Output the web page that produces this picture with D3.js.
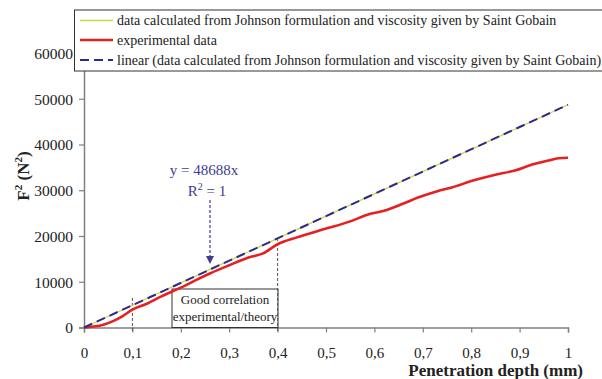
<!DOCTYPE html>
<html>
<head>
<meta charset="utf-8">
<script src="https://cdn.jsdelivr.net/npm/d3@7"></script>
<style>
  body { margin: 0; background: #fff; }
  svg, svg text, svg tspan { font-family: 'Liberation Serif', 'Times New Roman', Times, 'DejaVu Serif', serif !important; }
</style>
</head>
<body>
<div id="chart"></div>
<script>
// data
const depthTicks = [0, 0.1, 0.2, 0.3, 0.4, 0.5, 0.6, 0.7, 0.8, 0.9, 1];
const depthTickLabels = ['0', '0,1', '0,2', '0,3', '0,4', '0,5', '0,6', '0,7', '0,8', '0,9', '1'];
const forceTicks = [0, 10000, 20000, 30000, 40000, 50000, 60000];

const calcDepth = [0, 0.1, 0.2, 0.3, 0.4, 0.5, 0.6, 0.7, 0.8, 0.9, 1];
const calcF2 = [0, 4869, 9738, 14606, 19475, 24344, 29213, 34082, 38950, 43819, 48688];

const expDepth = [0, 0.02, 0.04, 0.06, 0.08, 0.1, 0.13, 0.16, 0.2, 0.23, 0.26, 0.3, 0.34, 0.37, 0.4,
  0.44, 0.48, 0.51, 0.55, 0.59, 0.62, 0.66, 0.69, 0.73, 0.76, 0.8, 0.85, 0.89, 0.92, 0.96, 0.98, 1];
const expF2 = [0, 200, 600, 1400, 2500, 3900, 5200, 6800, 8700, 10300, 11800, 13600, 15300, 16200, 18200,
  19700, 21000, 21900, 23200, 24800, 25500, 27100, 28400, 29800, 30600, 32000, 33400, 34300, 35400, 36500, 37000, 37100];

const trendSlope = 48688;
const trendDepth = [0, 1];

const legendLabels = [
  'data calculated from Johnson formulation and viscosity given by Saint Gobain',
  'experimental data',
  'linear (data calculated from Johnson formulation and viscosity given by Saint Gobain)'
];
const zoneDepth = [0.1, 0.4];

(() => {
  const W = 602, H = 379;
  const serif = "'Liberation Serif', 'Times New Roman', Times, 'DejaVu Serif', serif";
  const svg = d3.select('#chart').append('svg').attr('width', W).attr('height', H)
    .attr('font-family', serif);

  const x = d3.scaleLinear().domain([0, 1]).range([84, 568]);
  const y = d3.scaleLinear().domain([0, 60000]).range([327.5, 53]);

  const axisCol = '#808080';
  const textCol = '#222';
  const annCol = '#3c3c96';

  // x axis
  const xAxis = svg.append('g').attr('transform', `translate(0,${y(0)})`)
    .call(d3.axisBottom(x).tickValues(depthTicks).tickSize(5).tickFormat((d, i) => depthTickLabels[i]));
  xAxis.attr('font-family', serif);
  xAxis.select('.domain').attr('stroke', axisCol).attr('stroke-width', 1.5);
  xAxis.selectAll('.tick line').attr('stroke', axisCol).attr('stroke-width', 1.2);
  xAxis.selectAll('.tick text').attr('fill', textCol).attr('font-size', 15).attr('dy', 0).attr('y', 30);

  // y axis
  const yAxis = svg.append('g').attr('transform', `translate(${x(0)},0)`)
    .call(d3.axisLeft(y).tickValues(forceTicks).tickSize(5).tickFormat(d3.format('d')));
  yAxis.attr('font-family', serif);
  yAxis.select('.domain').attr('stroke', axisCol).attr('stroke-width', 1.5);
  yAxis.selectAll('.tick line').attr('stroke', axisCol).attr('stroke-width', 1.2);
  yAxis.selectAll('.tick text').attr('fill', textCol).attr('font-size', 15.5).attr('x', -11).attr('dy', '0.35em');

  // axis titles
  svg.append('text').attr('x', 583).attr('y', 376).attr('text-anchor', 'end')
    .attr('font-size', 17).attr('font-weight', 'bold').attr('fill', textCol)
    .text('Penetration depth (mm)');

  const yt = svg.append('text').attr('transform', 'translate(29,176) rotate(-90)')
    .attr('text-anchor', 'middle').attr('font-size', 17).attr('font-weight', 'bold').attr('fill', textCol);
  yt.append('tspan').text('F');
  yt.append('tspan').attr('font-size', 11).attr('dy', -7).text('2');
  yt.append('tspan').attr('dy', 7).text(' (N');
  yt.append('tspan').attr('font-size', 11).attr('dy', -7).text('2');
  yt.append('tspan').attr('dy', 7).text(')');

  // correlation zone
  svg.append('rect').attr('x', 172).attr('y', 289).attr('width', 106).attr('height', y(0) - 289)
    .attr('fill', '#fff').attr('stroke', '#333').attr('stroke-width', 1);
  svg.append('text').attr('x', 225).attr('y', 304).attr('text-anchor', 'middle').attr('font-size', 13)
    .attr('fill', textCol).text('Good correlation');
  svg.append('text').attr('x', 225).attr('y', 321).attr('text-anchor', 'middle').attr('font-size', 13)
    .attr('fill', textCol).text('experimental/theory');

  svg.selectAll('line.zone').data(zoneDepth).enter().append('line')
    .attr('x1', d => x(d)).attr('x2', d => x(d))
    .attr('y1', (d, i) => i === 0 ? 298 : 238).attr('y2', y(0) + 4)
    .attr('stroke', '#555').attr('stroke-width', 1).attr('stroke-dasharray', '3,2');

  // series
  const line = d3.line().x(d => x(d[0])).y(d => y(d[1]));
  svg.append('path').datum(calcDepth.map((d, i) => [d, calcF2[i]]))
    .attr('d', line).attr('fill', 'none').attr('stroke', '#c6d646').attr('stroke-width', 1.3);
  svg.append('path').datum(expDepth.map((d, i) => [d, expF2[i]]))
    .attr('d', d3.line().curve(d3.curveMonotoneX).x(d => x(d[0])).y(d => y(d[1])))
    .attr('fill', 'none').attr('stroke', '#e62020').attr('stroke-width', 2.6);
  svg.append('path').datum(trendDepth.map(d => [d, d * trendSlope]))
    .attr('d', line).attr('fill', 'none').attr('stroke', '#2b2b8c').attr('stroke-width', 2)
    .attr('stroke-dasharray', '9,5');

  // equation annotation
  svg.append('text').attr('x', 204).attr('y', 175).attr('text-anchor', 'middle').attr('font-size', 15)
    .attr('fill', annCol).text('y = 48688x');
  const r2 = svg.append('text').attr('x', 207).attr('y', 196).attr('text-anchor', 'middle').attr('font-size', 15)
    .attr('fill', annCol);
  r2.append('tspan').text('R');
  r2.append('tspan').attr('font-size', 10).attr('dy', -6).text('2');
  r2.append('tspan').attr('dy', 6).text(' = 1');
  svg.append('line').attr('x1', 210).attr('x2', 210).attr('y1', 200).attr('y2', 256)
    .attr('stroke', annCol).attr('stroke-width', 1.2).attr('stroke-dasharray', '3,2');
  svg.append('path').attr('d', 'M206,256 L214,256 L210,264 Z').attr('fill', annCol);

  // legend
  const lg = svg.append('g');
  lg.append('rect').attr('x', 74.5).attr('y', 10).attr('width', 540).attr('height', 61)
    .attr('fill', '#fff').attr('stroke', '#333').attr('stroke-width', 1);
  const rowsY = [20.5, 40, 60];
  const sw = [
    { c: '#c6d646', w: 1.3, d: null },
    { c: '#e62020', w: 2.6, d: null },
    { c: '#2b2b8c', w: 2, d: '9,5' }
  ];
  legendLabels.forEach((t, i) => {
    lg.append('line').attr('x1', 80).attr('x2', 113).attr('y1', rowsY[i]).attr('y2', rowsY[i])
      .attr('stroke', sw[i].c).attr('stroke-width', sw[i].w).attr('stroke-dasharray', sw[i].d);
    lg.append('text').attr('x', 117).attr('y', rowsY[i]).attr('dy', '0.35em').attr('font-size', 14)
      .attr('fill', textCol).text(t);
  });
})();
</script>
</body>
</html>
